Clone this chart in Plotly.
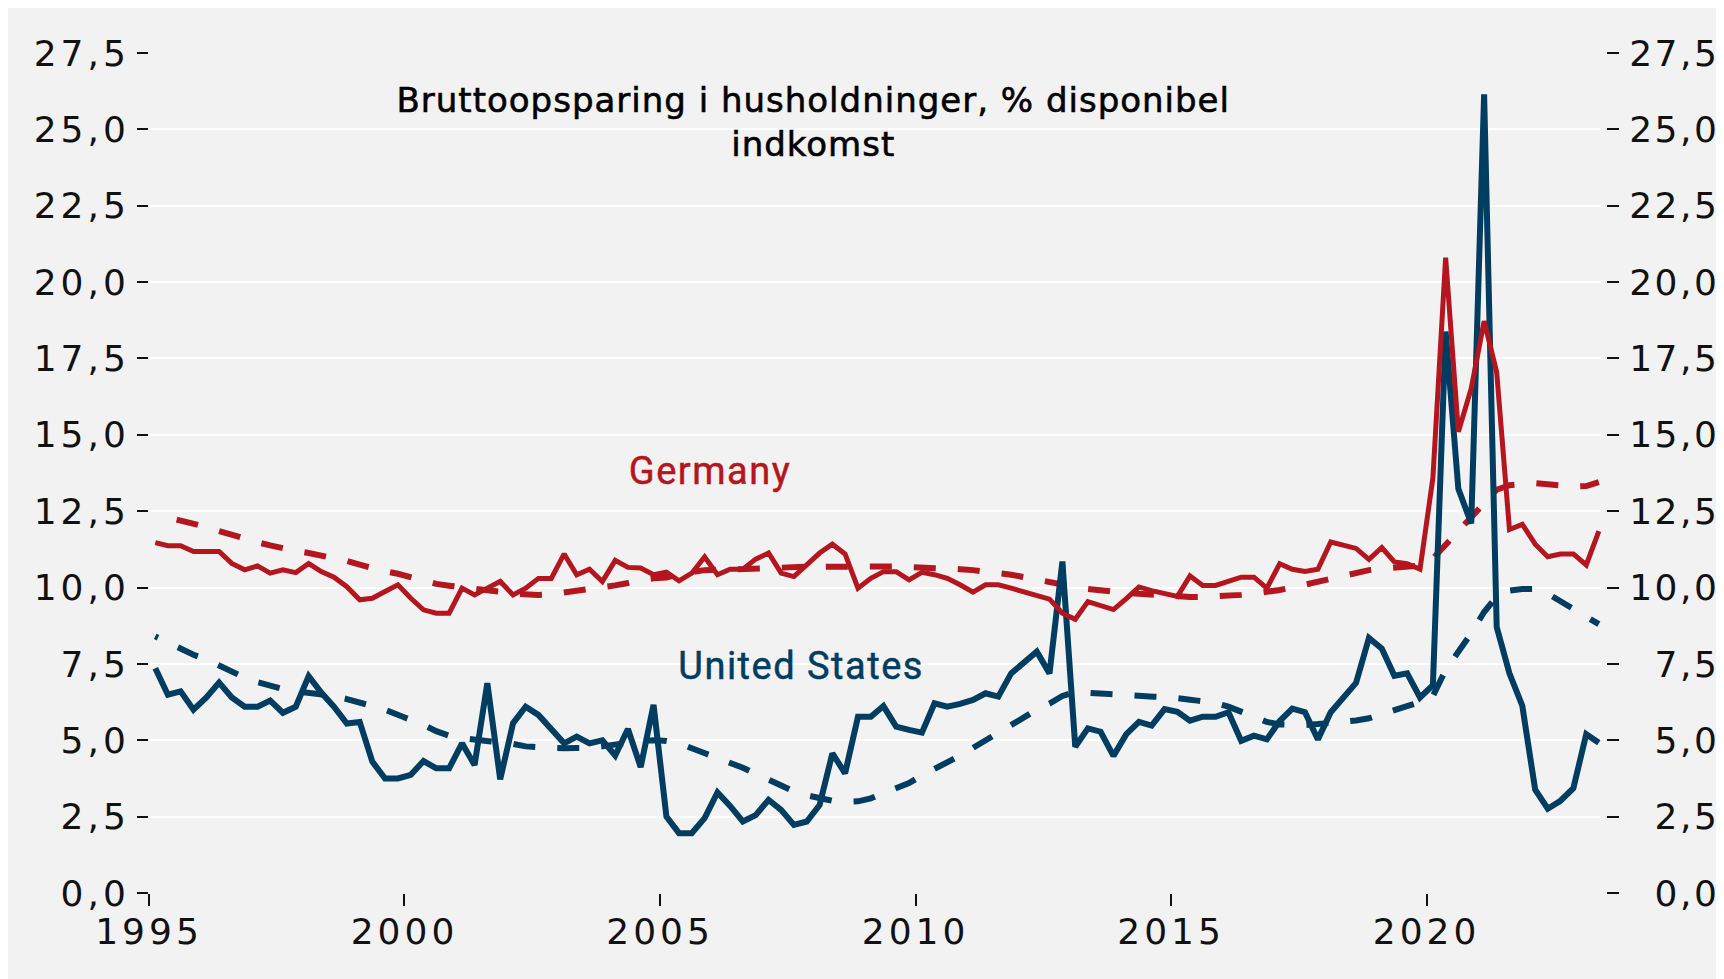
import pandas as pd
import plotly.graph_objects as go

# ---------------- data (quarterly, 1995Q1 - 2023Q2) ----------------
quarters = pd.period_range("1995Q1", "2023Q2", freq="Q")

germany_actual = [
    11.47, 11.37, 11.37, 11.18,   # 1995
    11.18, 11.18, 10.79, 10.58,   # 1996
    10.71, 10.47, 10.58, 10.49,   # 1997
    10.79, 10.52, 10.34, 10.03,   # 1998
    9.60, 9.65, 9.87, 10.09,      # 1999
    9.65, 9.27, 9.16, 9.16,       # 2000
    9.98, 9.76, 9.98, 10.20,      # 2001
    9.76, 9.98, 10.30, 10.30,     # 2002
    11.10, 10.42, 10.60, 10.20,   # 2003
    10.89, 10.66, 10.64, 10.42,   # 2004
    10.50, 10.22, 10.47, 11.00,   # 2005
    10.42, 10.60, 10.60, 10.93,   # 2006
    11.13, 10.47, 10.36, 10.74,   # 2007
    11.13, 11.42, 11.10, 9.98,    # 2008
    10.30, 10.52, 10.52, 10.25,   # 2009
    10.50, 10.42, 10.30, 10.09,   # 2010
    9.85, 10.09, 10.09, 9.98,     # 2011
    9.87, 9.76, 9.62, 9.16,       # 2012
    8.96, 9.54, 9.40, 9.28,       # 2013
    9.64, 10.02, 9.90, 9.81,      # 2014
    9.71, 10.38, 10.07, 10.07,    # 2015
    10.21, 10.34, 10.34, 9.98,    # 2016
    10.78, 10.60, 10.53, 10.60,   # 2017
    11.49, 11.37, 11.28, 10.92,   # 2018
    11.31, 10.84, 10.78, 10.60,   # 2019
    13.59, 20.80, 15.10, 16.52,   # 2020
    18.72, 17.05, 11.90, 12.07,   # 2021
    11.42, 11.01, 11.10, 11.10,   # 2022
    10.74, 11.85,                 # 2023
]

us_actual = [
    7.36, 6.49, 6.60, 6.00,       # 1995
    6.40, 6.89, 6.40, 6.10,       # 1996
    6.10, 6.30, 5.90, 6.10,       # 1997
    7.10, 6.56, 6.10, 5.55,       # 1998
    5.60, 4.30, 3.75, 3.75,       # 1999
    3.87, 4.32, 4.08, 4.08,       # 2000
    4.90, 4.19, 6.87, 3.72,       # 2001
    5.56, 6.10, 5.83, 5.34,       # 2002
    4.90, 5.12, 4.90, 5.00,       # 2003
    4.50, 5.37, 4.12, 6.16,       # 2004
    2.50, 1.96, 1.96, 2.45,       # 2005
    3.29, 2.85, 2.34, 2.55,       # 2006
    3.05, 2.72, 2.23, 2.34,       # 2007
    2.88, 4.57, 3.92, 5.77,       # 2008
    5.77, 6.12, 5.45, 5.34,       # 2009
    5.25, 6.21, 6.10, 6.19,       # 2010
    6.32, 6.54, 6.43, 7.19,       # 2011
    7.57, 7.90, 7.19, 10.85,      # 2012
    4.79, 5.39, 5.28, 4.49,       # 2013
    5.20, 5.60, 5.48, 6.02,       # 2014
    5.93, 5.64, 5.77, 5.77,       # 2015
    5.92, 4.98, 5.15, 5.03,       # 2016
    5.63, 6.04, 5.92, 5.03,       # 2017
    5.92, 6.40, 6.88, 8.35,       # 2018
    8.00, 7.11, 7.19, 6.40,       # 2019
    6.80, 18.38, 13.23, 12.10,    # 2020
    26.15, 8.71, 7.19, 6.13,      # 2021
    3.38, 2.76, 3.02, 3.43,       # 2022
    5.20, 4.92,                   # 2023
]

germany_trend = [
    12.40, 12.30, 12.22, 12.10,   # 1995
    11.98, 11.85, 11.72, 11.60,   # 1996
    11.48, 11.38, 11.28, 11.20,   # 1997
    11.13, 11.05, 10.97, 10.87,   # 1998
    10.75, 10.63, 10.53, 10.45,   # 1999
    10.33, 10.22, 10.12, 10.06,   # 2000
    10.02, 9.97, 9.92, 9.86,      # 2001
    9.80, 9.77, 9.76, 9.78,       # 2002
    9.83, 9.90, 9.95, 10.00,      # 2003
    10.07, 10.15, 10.25, 10.30,   # 2004
    10.33, 10.44, 10.52, 10.57,   # 2005
    10.58, 10.60, 10.62, 10.64,   # 2006
    10.65, 10.66, 10.67, 10.68,   # 2007
    10.68, 10.69, 10.69, 10.69,   # 2008
    10.69, 10.69, 10.69, 10.68,   # 2009
    10.66, 10.64, 10.62, 10.60,   # 2010
    10.57, 10.53, 10.48, 10.42,   # 2011
    10.34, 10.25, 10.18, 10.10,   # 2012
    10.02, 9.95, 9.90, 9.86,      # 2013
    9.82, 9.80, 9.77, 9.74,       # 2014
    9.70, 9.69, 9.69, 9.70,       # 2015
    9.72, 9.76, 9.80, 9.85,       # 2016
    9.92, 10.00, 10.10, 10.20,    # 2017
    10.30, 10.40, 10.50, 10.57,   # 2018
    10.62, 10.66, 10.68, 10.72,   # 2019
    10.95, 11.40, 11.90, 12.30,   # 2020
    12.75, 13.20, 13.35, 13.40,   # 2021
    13.42, 13.38, 13.34, 13.31,   # 2022
    13.32, 13.45,                 # 2023
]

us_trend = [
    8.40, 8.20, 8.00, 7.80,       # 1995
    7.65, 7.45, 7.25, 7.05,       # 1996
    6.90, 6.78, 6.68, 6.60,       # 1997
    6.55, 6.50, 6.45, 6.35,       # 1998
    6.25, 6.12, 6.00, 5.85,       # 1999
    5.65, 5.50, 5.30, 5.15,       # 2000
    5.07, 5.03, 5.00, 4.95,       # 2001
    4.88, 4.80, 4.76, 4.75,       # 2002
    4.74, 4.74, 4.75, 4.80,       # 2003
    4.87, 4.94, 4.98, 5.00,       # 2004
    4.98, 4.90, 4.75, 4.60,       # 2005
    4.45, 4.30, 4.10, 3.90,       # 2006
    3.70, 3.50, 3.33, 3.20,       # 2007
    3.10, 3.02, 2.98, 3.00,       # 2008
    3.10, 3.28, 3.45, 3.60,       # 2009
    3.85, 4.05, 4.30, 4.50,       # 2010
    4.75, 5.00, 5.25, 5.50,       # 2011
    5.75, 6.00, 6.20, 6.45,       # 2012
    6.58, 6.56, 6.53, 6.50,       # 2013
    6.48, 6.46, 6.44, 6.42,       # 2014
    6.38, 6.33, 6.28, 6.22,       # 2015
    6.10, 5.95, 5.75, 5.60,       # 2016
    5.52, 5.50, 5.50, 5.53,       # 2017
    5.56, 5.60, 5.65, 5.72,       # 2018
    5.85, 6.00, 6.12, 6.25,       # 2019
    6.45, 7.30, 7.90, 8.50,       # 2020
    9.20, 9.70, 9.90, 9.95,       # 2021
    9.95, 9.80, 9.55, 9.30,       # 2022
    9.00, 8.80,                   # 2023
]

year_ticks = [1995, 2000, 2005, 2010, 2015, 2020]
y_ticks = [0, 2.5, 5, 7.5, 10, 12.5, 15, 17.5, 20, 22.5, 25, 27.5]

title_text = "Bruttoopsparing i husholdninger, % disponibel<br>indkomst"
label_germany = "Germany"
label_us = "United States"

# ---------------- styling ----------------
RED = "#B3161F"
BLUE = "#003D61"
BG = "#F2F2F2"
INK = "#111111"
TICK_FONT = dict(family="DejaVu Sans", size=36, color=INK)

x_dates = quarters.to_timestamp(how="start") + pd.Timedelta(days=45)

fig = go.Figure()
fig.add_trace(go.Scatter(x=x_dates, y=us_trend, mode="lines",
                         line=dict(color=BLUE, width=6, dash="3px,22px,19px,0px"),
                         hoverinfo="skip", showlegend=False))
fig.add_trace(go.Scatter(x=x_dates, y=germany_trend, mode="lines",
                         line=dict(color=RED, width=6, dash="0px,22px,22px,0px"),
                         hoverinfo="skip", showlegend=False))
fig.add_trace(go.Scatter(x=x_dates, y=us_actual, mode="lines",
                         line=dict(color=BLUE, width=6),
                         showlegend=False))
fig.add_trace(go.Scatter(x=x_dates, y=germany_actual, mode="lines",
                         line=dict(color=RED, width=5),
                         showlegend=False))
# carrier trace so that the right-hand axis is drawn (fully transparent)
fig.add_trace(go.Scatter(x=x_dates, y=germany_trend, mode="lines", yaxis="y2",
                         opacity=0, line=dict(width=1), hoverinfo="skip",
                         showlegend=False))

right_text = []
for v in y_ticks:
    s = f"{v:.1f}".replace(".", ",")
    if len(s) == 3:
        s = "\u2007" + s
    right_text.append(s)

fig.update_layout(
    width=1716, height=971,
    paper_bgcolor=BG, plot_bgcolor=BG,
    margin=dict(l=141, r=118, t=45.3, b=86, pad=0),
    separators=",.",
    showlegend=False,
    xaxis=dict(
        type="date",
        range=["1995-01-01", "2023-06-04"],
        domain=[0, 0.99691],
        showgrid=False, zeroline=False, showline=False,
        ticks="outside", ticklen=12, tickwidth=2, tickcolor=INK,
        tickvals=[f"{y}-01-01" for y in year_ticks],
        ticktext=[str(y) for y in year_ticks],
        tickfont=TICK_FONT,
        ticklabelstandoff=-5,
    ),
    yaxis=dict(
        range=[0, 27.5],
        tickvals=y_ticks, tickformat=".1f",
        showgrid=True, gridcolor="white", gridwidth=2,
        zeroline=False, showline=False,
        ticks="outside", ticklen=11, tickwidth=2, tickcolor=INK,
        tickfont=TICK_FONT,
    ),
    yaxis2=dict(
        overlaying="y", side="right", anchor="free", position=1,
        range=[0, 27.5],
        tickvals=y_ticks, ticktext=right_text,
        showgrid=False, zeroline=False, showline=False,
        ticks="outside", ticklen=12, tickwidth=2, tickcolor=INK,
        tickfont=TICK_FONT,
        ticklabelstandoff=3,
    ),
    annotations=[
        dict(text=title_text, xref="x", yref="y", x="2007-12-28", y=26.67,
             xanchor="center", yanchor="top", showarrow=False,
             font=dict(family="DejaVu Sans", size=34, color="#000000")),
        dict(text=label_germany, xref="x", yref="y", x="2005-12-25", y=13.8,
             xanchor="center", yanchor="middle", showarrow=False,
             font=dict(family="Roboto", size=38, color=RED)),
        dict(text=label_us, xref="x", yref="y", x="2007-10-03", y=7.42,
             xanchor="center", yanchor="middle", showarrow=False,
             font=dict(family="Roboto", size=38, color=BLUE)),
    ],
)

css = (
    ".xtick text, .ytick text { letter-spacing: 4px; }"
    " .y2tick text { letter-spacing: 2.5px; }"
    " .annotation[data-index='0'] text { letter-spacing: 1px; stroke: #000; stroke-width: 0.6px; }"
    " .annotation[data-index='1'] text { letter-spacing: 1.5px; stroke: " + RED + "; stroke-width: 0.5px; }"
    " .annotation[data-index='2'] text { letter-spacing: 1.5px; stroke: " + BLUE + "; stroke-width: 0.5px; }"
)
post_js = (
    "var st = document.createElement('style');"
    "st.textContent = " + repr(css) + ";"
    "document.head.appendChild(st);"
)

fig.write_html("out.html", post_script=post_js)
